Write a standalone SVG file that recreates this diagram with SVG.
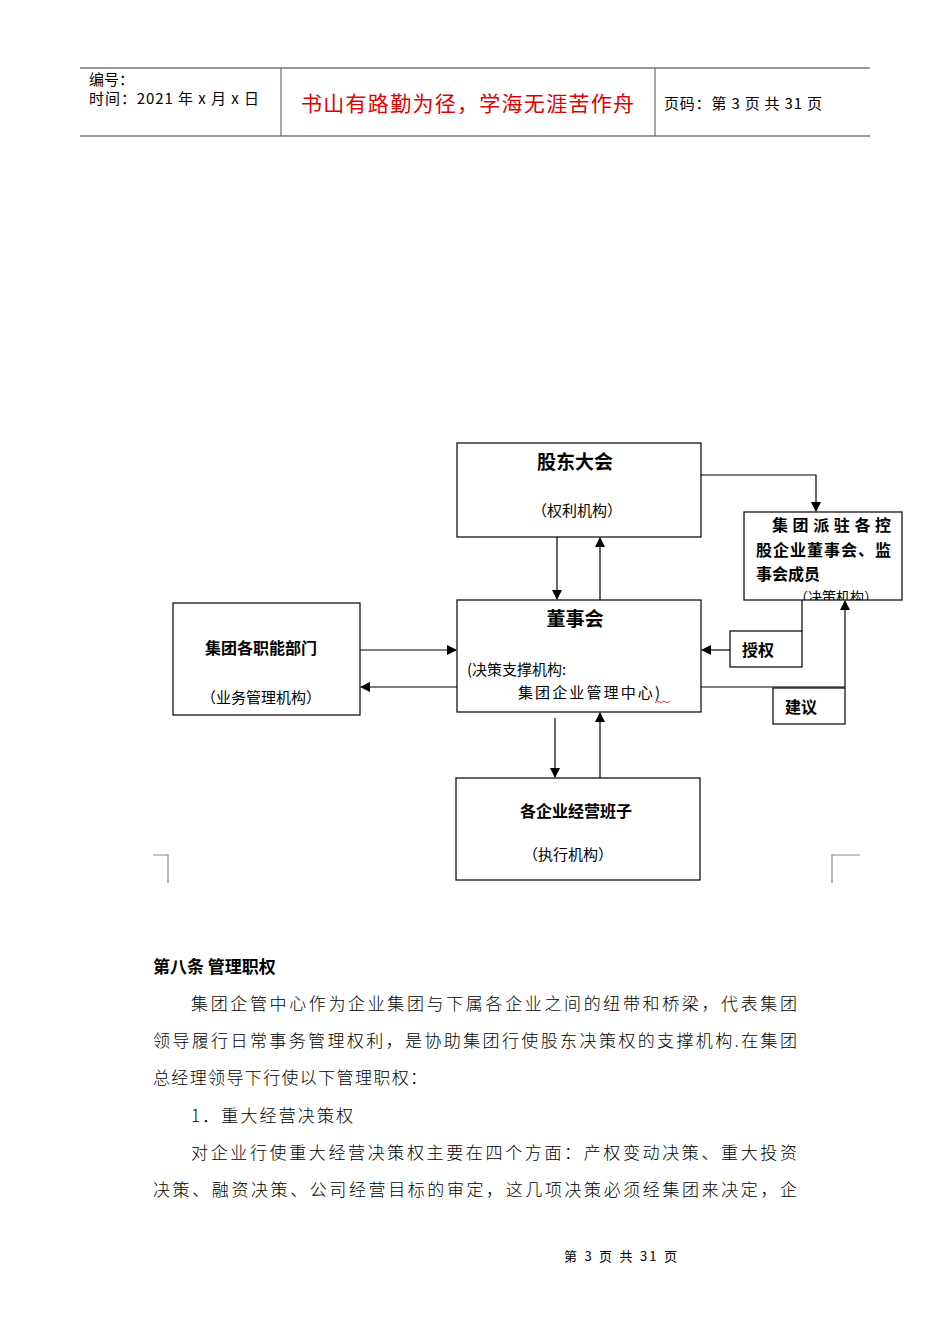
<svg xmlns="http://www.w3.org/2000/svg" width="950" height="1344" viewBox="0 0 950 1344">
<style>
text{font-family:"Noto Sans CJK SC","Liberation Sans",sans-serif;fill:#000}
.b{fill:#fff;stroke:#000;stroke-width:1.2}
.l{stroke:#000;stroke-width:1.2;fill:none}
.s{font-family:"Noto Sans CJK SC",sans-serif;font-size:17px;font-weight:300}
</style>
<defs><marker id="a" markerWidth="10" markerHeight="10" refX="9" refY="5" orient="auto" markerUnits="userSpaceOnUse"><path d="M0,0L10,5L0,10z"/></marker></defs>
<rect width="950" height="1344" fill="#fff"/>
<g id="header">
<line x1="80" y1="68" x2="870" y2="68" stroke="#333"/>
<line x1="80" y1="136" x2="870" y2="136" stroke="#777" stroke-width="1.5"/>
<line x1="281" y1="68" x2="281" y2="136" stroke="#555"/>
<line x1="655" y1="68" x2="655" y2="136" stroke="#555"/>
<text x="89" y="85" font-size="15">编号：</text>
<text x="89" y="104" font-size="15" textLength="170">时间：2021 年 x 月 x 日</text>
<text x="301" y="111" font-size="21" textLength="333" style="fill:#e00000">书山有路勤为径，学海无涯苦作舟</text>
<text x="664" y="109" font-size="15" textLength="158">页码：第 3 页  共 31 页</text>
</g>
<g id="connectors">
<polyline class="l" points="701,475 816,475 816,511" marker-end="url(#a)"/>
<line class="l" x1="557" y1="537" x2="557" y2="599" marker-end="url(#a)"/>
<line class="l" x1="600" y1="600" x2="600" y2="538" marker-end="url(#a)"/>
<line class="l" x1="802" y1="600" x2="802" y2="631"/>
<line class="l" x1="730" y1="650" x2="702" y2="650" marker-end="url(#a)"/>
<polyline class="l" points="701,687 845,687 845,601" marker-end="url(#a)"/>
<line class="l" x1="360" y1="650" x2="456" y2="650" marker-end="url(#a)"/>
<line class="l" x1="457" y1="687" x2="361" y2="687" marker-end="url(#a)"/>
<line class="l" x1="555" y1="718" x2="555" y2="777" marker-end="url(#a)"/>
<line class="l" x1="600" y1="778" x2="600" y2="713" marker-end="url(#a)"/>
</g>
<g id="n1"><rect class="b" x="457" y="443" width="244" height="94"/>
<text x="575" y="469" font-size="19" font-weight="bold" text-anchor="middle">股东大会</text>
<text x="577" y="516" font-size="15" text-anchor="middle">（权利机构）</text></g>
<g id="n2"><rect class="b" x="744" y="512" width="158" height="88"/>
<text x="772" y="531" font-size="16" font-weight="bold" textLength="119">集团派驻各控</text>
<text x="756" y="556" font-size="16" font-weight="bold" textLength="135">股企业董事会、监</text>
<text x="756" y="580" font-size="16" font-weight="bold">事会成员</text>
<svg x="744" y="588" width="158" height="12"><text x="50" y="14" font-size="14">（决策机构）</text></svg></g>
<g id="n3"><rect class="b" x="457" y="600" width="244" height="112"/>
<text x="575" y="626" font-size="19" font-weight="bold" text-anchor="middle">董事会</text>
<text x="467" y="675" font-size="15">(决策支撑机构:</text>
<text x="518" y="698" font-size="15" textLength="142">集团企业管理中心)</text>
<path d="M655,703l3,-2l3,2l3,-2l3,2l3,-2" stroke="#e00" fill="none" stroke-width="0.8"/></g>
<g id="n4"><rect class="b" x="173" y="603" width="187" height="112"/>
<text x="261" y="654" font-size="16" font-weight="bold" text-anchor="middle">集团各职能部门</text>
<text x="261" y="703" font-size="15" text-anchor="middle">（业务管理机构）</text></g>
<g id="n5"><rect class="b" x="456" y="778" width="244" height="102"/>
<text x="576" y="817" font-size="16" font-weight="bold" text-anchor="middle">各企业经营班子</text>
<text x="568" y="860" font-size="15" text-anchor="middle">（执行机构）</text></g>
<g id="n6"><rect class="b" x="730" y="631" width="72" height="36"/>
<text x="742" y="656" font-size="16" font-weight="bold">授权</text></g>
<g id="n7"><rect class="b" x="773" y="688" width="72" height="36"/>
<text x="785" y="713" font-size="16" font-weight="bold">建议</text></g>
<polyline points="153,855 168,855 168,883" class="l" style="stroke:#888"/>
<polyline points="832,883 832,855 860,855" class="l" style="stroke:#888"/>
<g id="body">
<text x="153" y="973" font-size="17" font-weight="bold">第八条  管理职权</text>
<text x="191" y="1010" class="s" textLength="606">集团企管中心作为企业集团与下属各企业之间的纽带和桥梁，代表集团</text>
<text x="153" y="1047" class="s" textLength="644">领导履行日常事务管理权利，是协助集团行使股东决策权的支撑机构.在集团</text>
<text x="153" y="1084" class="s" textLength="274">总经理领导下行使以下管理职权：</text>
<text x="191" y="1122" class="s" textLength="162">1．重大经营决策权</text>
<text x="191" y="1159" class="s" textLength="606">对企业行使重大经营决策权主要在四个方面：产权变动决策、重大投资</text>
<text x="153" y="1196" class="s" textLength="644">决策、融资决策、公司经营目标的审定，这几项决策必须经集团来决定，企</text>
<text x="564" y="1261" font-size="13" textLength="113">第 3 页 共 31 页</text>
</g>
</svg>
